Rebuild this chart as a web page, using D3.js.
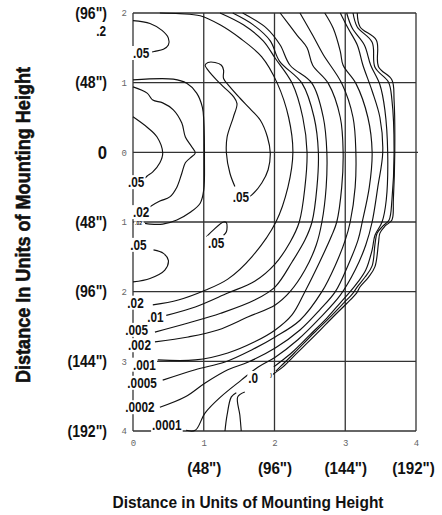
<!DOCTYPE html>
<html>
<head>
<meta charset="utf-8">
<script src="https://cdn.jsdelivr.net/npm/d3@7"></script>
<style>
body { margin: 0; background: #fff; }
svg { display: block; }
</style>
</head>
<body>
<div id="chart"></div>
<script>
var width = 442, height = 515;
var margin = {top: 13, right: 26, bottom: 84, left: 133};
var plotW = width - margin.left - margin.right;
var plotH = height - margin.top - margin.bottom;

// axis ticks (units of mounting height) and the inch labels beside them
var xTicks = [0, 1, 2, 3, 4];
var yTicks = [2, 1, 0, -1, -2, -3, -4];
var xInch = ['(48")', '(96")', '(144")', '(192")'];
var yInch = ['(96")', '(48")', '0', '(48")', '(96")', '(144")', '(192")'];

// isofootcandle lines, [distance across, distance along]
var loop05a = [[0,1.89],[0.24,1.85],[0.41,1.75],[0.5,1.64],[0.5,1.54],[0.43,1.48],[0.31,1.45],[0.27,1.44]];
var loop02a = [[0,1.04],[0.57,1.05],[0.76,0.99],[0.9,0.85],[0.98,0.65],[1.0,0.46],[1.01,-0.11],[1.0,-0.54],[0.95,-0.73],[0.81,-0.86],[0.62,-0.97],[0.42,-1.03],[0.24,-1.03],[0.17,-1.02]];
var loop02b = [[0,0.94],[0.2,0.85],[0.28,0.75],[0.42,0.71],[0.57,0.61],[0.69,0.42],[0.74,0.22],[0.83,0.08],[0.88,-0.01],[0.81,-0.08],[0.74,-0.15],[0.69,-0.3],[0.62,-0.5],[0.52,-0.64],[0.38,-0.7],[0.24,-0.78],[0.21,-0.8]];
var loop05b = [[0,0.51],[0.2,0.36],[0.34,0.22],[0.42,-0.01],[0.38,-0.15],[0.28,-0.28],[0.2,-0.34],[0.17,-0.37]];
var loop05c = [[1.44,-0.49],[1.37,-0.3],[1.32,-0.01],[1.33,0.22],[1.42,0.51],[1.47,0.7],[1.42,0.8],[1.28,0.94],[1.18,1.04],[1.06,1.18],[1.02,1.25],[1.06,1.29],[1.16,1.29],[1.25,1.25],[1.28,1.18],[1.28,1.06],[1.37,0.94],[1.51,0.78],[1.65,0.63],[1.8,0.46],[1.9,0.22],[1.94,-0.01],[1.91,-0.25],[1.82,-0.44],[1.68,-0.61],[1.63,-0.64]];
var loop05d = [[1.04,-1.21],[1.13,-1.12],[1.28,-1.0],[1.32,-1.01],[1.32,-1.14],[1.28,-1.19]];
var loop05e = [[0,-1.86],[0.24,-1.81],[0.45,-1.69],[0.5,-1.55],[0.43,-1.45],[0.29,-1.4]];
var arc02 = [[0.28,-2.19],[0.64,-2.12],[1.02,-1.98],[1.34,-1.82],[1.68,-1.5],[2.02,-1.0],[2.19,-0.5],[2.26,0],[2.2,0.5],[2.04,0.99],[1.82,1.37],[1.51,1.64],[1.23,1.83],[0.95,1.96],[0.66,1.99],[0.38,2.0]];
var arc01 = [[0.47,-2.34],[0.88,-2.22],[1.34,-2.02],[1.72,-1.85],[2.01,-1.6],[2.22,-1.29],[2.35,-1.0],[2.43,-0.5],[2.46,0],[2.4,0.5],[2.25,0.99],[2.01,1.35],[1.84,1.6],[1.56,1.83],[1.23,2.0]];
var arc005 = [[0.31,-2.58],[0.78,-2.45],[1.24,-2.31],[1.72,-2.12],[2.01,-1.93],[2.25,-1.57],[2.43,-1.26],[2.53,-1.0],[2.6,-0.5],[2.62,0],[2.56,0.5],[2.39,0.99],[2.07,1.31],[1.94,1.6],[1.7,1.83],[1.41,2.0]];
var arc002 = [[0.31,-2.72],[0.78,-2.65],[1.2,-2.55],[1.63,-2.36],[2.01,-2.19],[2.22,-2.0],[2.43,-1.69],[2.59,-1.33],[2.67,-1.0],[2.73,-0.5],[2.74,0],[2.69,0.5],[2.53,0.99],[2.22,1.25],[2.08,1.54],[1.89,1.78],[1.55,2.0]];
var arc001 = [[0.35,-2.98],[0.88,-2.98],[1.34,-2.88],[1.72,-2.72],[2.01,-2.55],[2.25,-2.33],[2.43,-2.0],[2.64,-1.57],[2.81,-1.19],[2.88,-1.0],[2.95,-0.5],[2.97,0],[2.93,0.5],[2.76,0.99],[2.54,1.25],[2.46,1.5],[2.32,1.68],[2.08,2.0]];
var arc0005 = [[0.42,-3.27],[0.88,-3.12],[1.3,-3.01],[1.67,-2.84],[2.01,-2.65],[2.36,-2.41],[2.67,-2.0],[2.86,-1.62],[3.0,-1.26],[3.07,-1.0],[3.14,-0.5],[3.15,0],[3.11,0.5],[2.95,0.99],[2.69,1.4],[2.54,1.68],[2.36,2.0]];
var arc0002 = [[0.38,-3.66],[0.74,-3.51],[1.02,-3.31],[1.34,-3.12],[1.63,-3.01],[2.01,-2.81],[2.36,-2.55],[2.64,-2.26],[2.86,-2.0],[3.04,-1.62],[3.18,-1.26],[3.24,-1.0],[3.34,-0.5],[3.38,0],[3.32,0.5],[3.15,0.99],[2.97,1.25],[2.93,1.45],[2.83,1.78],[2.71,2.0]];
var arc0001 = [[0.75,-3.99],[0.88,-3.99],[1.02,-3.74],[1.24,-3.51],[1.53,-3.27],[1.77,-3.08],[2.01,-2.94],[2.33,-2.69],[2.64,-2.38],[2.93,-2.05],[3.14,-1.69],[3.29,-1.33],[3.38,-1.0],[3.46,-0.5],[3.53,0],[3.49,0.5],[3.38,0.88],[3.25,1.25],[3.17,1.54],[3.04,1.78],[2.93,2.0]];
var edgeA = [[3.02,2.0],[3.1,1.78],[3.27,1.54],[3.36,1.25],[3.49,0.97],[3.56,0.61],[3.6,-0.01],[3.58,-0.68],[3.52,-1.0],[3.42,-1.19],[3.38,-1.4],[3.29,-1.69],[3.18,-1.86],[3.07,-2.0],[2.93,-2.16],[2.74,-2.38],[2.5,-2.62],[2.25,-2.87],[2.08,-3.01],[1.99,-3.08]];
var edgeB = [[3.11,2.0],[3.17,1.8],[3.38,1.58],[3.42,1.22],[3.61,1.01],[3.66,0.75],[3.69,-0.01],[3.66,-0.68],[3.62,-0.97],[3.53,-1.06],[3.45,-1.16],[3.42,-1.32],[3.38,-1.63],[3.28,-1.79],[3.17,-1.93],[3.11,-2.02],[2.98,-2.16],[2.8,-2.35],[2.56,-2.59],[2.28,-2.88],[2.09,-3.07],[2.02,-3.14]];
var edgeC = [[3.17,2.0],[3.21,1.8],[3.44,1.61],[3.47,1.23],[3.66,1.04],[3.69,0.75],[3.7,-0.01],[3.68,-0.68],[3.66,-0.97],[3.56,-1.06],[3.49,-1.16],[3.47,-1.3],[3.42,-1.64],[3.33,-1.79],[3.21,-1.93],[3.16,-2.02],[3.02,-2.17],[2.83,-2.36],[2.6,-2.6],[2.31,-2.89],[2.12,-3.08],[2.0,-3.17],[1.96,-3.2]];
var tongueA = [[1.3,-4.0],[1.33,-3.77],[1.39,-3.51],[1.46,-3.45]];
var tongueB = [[1.53,-4.0],[1.51,-3.77],[1.48,-3.51],[1.58,-3.44]];

// line labels and where they sit (left end, baseline)
var labelText = [".2", ".05", ".05", ".05", ".02", ".05", ".05", ".02", ".01", ".005", ".002", ".001", ".0005", ".0002", ".0001", ".0"];
var labelAt = [[-0.52,1.67],[0,1.354],[-0.07,-0.5],[1.41,-0.71],[0,-0.93],[-0.04,-1.40],[1.06,-1.37],[-0.08,-2.23],[0.2,-2.44],[-0.11,-2.62],[-0.07,-2.84],[0,-3.12],[-0.08,-3.38],[-0.11,-3.73],[0.27,-3.99],[1.63,-3.31]];
var smallText = [".02", ")"];
var smallAt = [[0.03,-1.05],[1.94,-3.22]];

var isoLines = [loop05a, loop02a, loop02b, loop05b, loop05c, loop05d, loop05e,
  arc02, arc01, arc005, arc002, arc001, arc0005, arc0002, arc0001,
  edgeA, edgeB, edgeC, tongueA, tongueB];

var boldFont = "'Liberation Sans Narrow', 'Arial Narrow', 'Liberation Sans', Arial, sans-serif";
var monoFont = "'Liberation Mono', 'DejaVu Sans Mono', monospace";

// squeeze bold text to a condensed look
function narrow(sel, f) {
  sel.each(function() {
    var w = this.getComputedTextLength();
    d3.select(this).attr("textLength", w * f).attr("lengthAdjust", "spacingAndGlyphs");
  });
}

var svg = d3.select("#chart").append("svg").attr("width", width).attr("height", height);
var g = svg.append("g").attr("transform", "translate(" + margin.left + "," + margin.top + ")");

var x = d3.scaleLinear().domain([0, 4]).range([0, plotW]);
var y = d3.scaleLinear().domain([2, -4]).range([0, plotH]);

// grid
g.selectAll(".vgrid").data(xTicks).enter().append("line")
  .attr("x1", d => x(d)).attr("x2", d => x(d)).attr("y1", 0).attr("y2", plotH)
  .attr("stroke", "#333").attr("stroke-width", 1.3);
g.selectAll(".hgrid").data(yTicks).enter().append("line")
  .attr("x1", 0).attr("x2", d => d === 0 ? plotW + 2 : plotW)
  .attr("y1", d => y(d)).attr("y2", d => y(d))
  .attr("stroke", "#333").attr("stroke-width", 1.3);

// iso lines
var line = d3.line().x(d => x(d[0])).y(d => y(d[1])).curve(d3.curveCatmullRom.alpha(0.5));
g.selectAll(".iso").data(isoLines).enter().append("path")
  .attr("d", line).attr("fill", "none").attr("stroke", "#111").attr("stroke-width", 1.15);

// labels with a white patch behind
function addLabels(texts, at, size) {
  texts.forEach(function(t, i) {
    var lg = g.append("g");
    var r = lg.append("rect").attr("fill", "#fff");
    var tx = lg.append("text").attr("x", x(at[i][0])).attr("y", y(at[i][1]))
      .attr("font-family", boldFont).attr("font-weight", "bold")
      .attr("font-size", size).attr("fill", "#111").text(t);
    narrow(tx, 0.84);
    var b = tx.node().getBBox();
    r.attr("x", b.x - 1).attr("y", b.y + 1).attr("width", b.width + 2).attr("height", b.height - 2);
  });
}
addLabels(labelText, labelAt, 14);
addLabels(smallText, smallAt, 6);

// small tick numbers
var yAxis = d3.axisLeft(y).tickValues(yTicks).tickSize(0).tickPadding(6).tickFormat(d => Math.abs(d));
var ya = g.append("g").call(yAxis);
ya.select(".domain").remove();
ya.selectAll("text").attr("font-family", monoFont).attr("font-size", 9).attr("fill", "#666");

var xAxis = d3.axisBottom(x).tickValues(xTicks).tickSize(0).tickPadding(9).tickFormat(d3.format("d"));
var xa = g.append("g").attr("transform", "translate(0," + plotH + ")").call(xAxis);
xa.select(".domain").remove();
xa.selectAll("text").attr("font-family", monoFont).attr("font-size", 9).attr("fill", "#666");

// inch labels
var yInchAxis = d3.axisLeft(y).tickValues(yTicks).tickSize(0).tickPadding(26).tickFormat((d, i) => yInch[i]);
var yi = g.append("g").call(yInchAxis);
yi.select(".domain").remove();
yi.selectAll("text").attr("font-family", boldFont).attr("font-weight", "bold").attr("font-size", 16).attr("fill", "#111");
yi.selectAll("text").filter(d => d === 0).attr("font-size", 19);
narrow(yi.selectAll("text"), 0.88);

var xInchAxis = d3.axisBottom(x).tickValues([1, 2, 3, 4]).tickSize(0).tickPadding(31).tickFormat((d, i) => xInch[i]);
var xi = g.append("g").attr("transform", "translate(0," + plotH + ")").call(xInchAxis);
xi.select(".domain").remove();
xi.selectAll("text").attr("font-family", boldFont).attr("font-weight", "bold").attr("font-size", 16.5).attr("fill", "#111");
narrow(xi.selectAll("text"), 0.92);
xi.selectAll("text").filter(d => d === 4).attr("dx", "-3px");

// titles
svg.append("text").attr("x", 248).attr("y", 508).attr("text-anchor", "middle")
  .attr("font-family", boldFont).attr("font-weight", "bold").attr("font-size", 17)
  .attr("textLength", 271).attr("lengthAdjust", "spacingAndGlyphs")
  .attr("fill", "#111").text("Distance in Units of Mounting Height");

svg.append("text").attr("transform", "translate(30,225) rotate(-90)").attr("text-anchor", "middle")
  .attr("font-family", boldFont).attr("font-weight", "bold").attr("font-size", 20)
  .attr("textLength", 316).attr("lengthAdjust", "spacingAndGlyphs")
  .attr("stroke", "#111").attr("stroke-width", 0.6)
  .attr("fill", "#111").text("Distance In Units of Mounting Height");
</script>
</body>
</html>
